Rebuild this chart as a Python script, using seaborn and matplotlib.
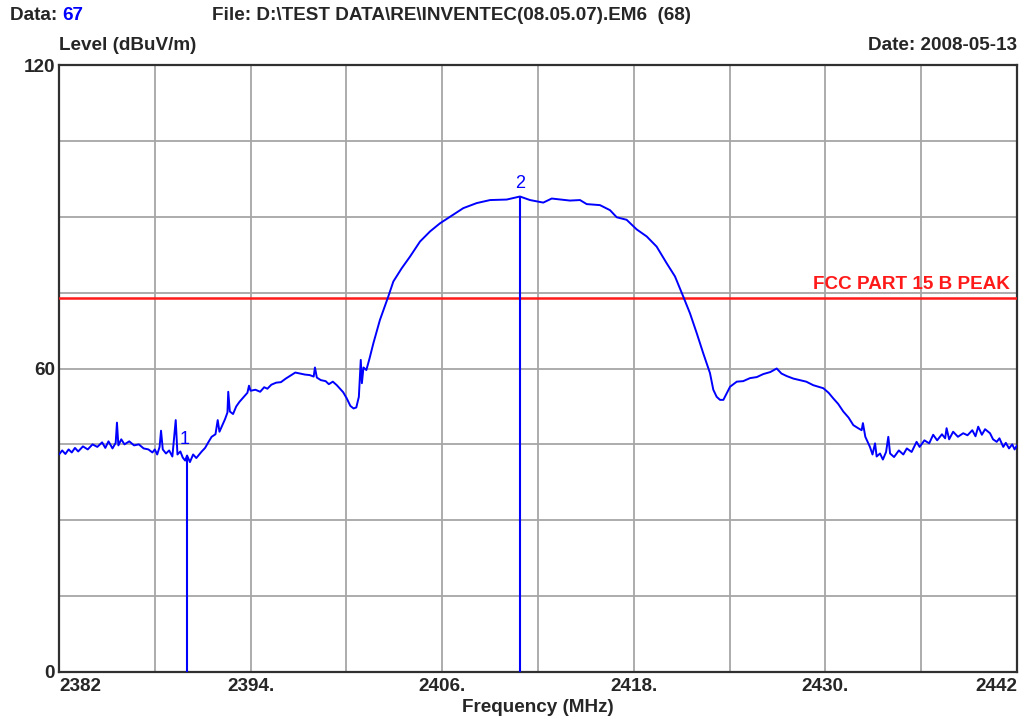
import matplotlib
matplotlib.use("Agg")
import matplotlib.pyplot as plt
import numpy as np
import pandas as pd
import seaborn as sns

# Spectrum trace (MHz, dBuV/m)
freq_mhz = [
    2382.00, 2382.20, 2382.40, 2382.60, 2382.80, 2383.00, 2383.20, 2383.50, 2383.80, 2384.10,
    2384.40, 2384.70, 2384.90, 2385.10, 2385.35, 2385.55, 2385.63, 2385.72, 2385.90, 2386.10,
    2386.40, 2386.70, 2387.00, 2387.30, 2387.60, 2387.85, 2388.00, 2388.15, 2388.30, 2388.39,
    2388.50, 2388.70, 2388.90, 2389.10, 2389.31, 2389.42, 2389.60, 2389.75, 2389.90, 2390.02,
    2390.20, 2390.40, 2390.60, 2390.94, 2391.15, 2391.35, 2391.56, 2391.80, 2391.94, 2392.05,
    2392.19, 2392.40, 2392.55, 2392.60, 2392.70, 2392.90, 2393.10, 2393.30, 2393.55, 2393.80,
    2393.90, 2394.00, 2394.30, 2394.60, 2394.85, 2395.05, 2395.30, 2395.60, 2395.90, 2396.20,
    2396.50, 2396.80, 2397.10, 2397.40, 2397.70, 2397.95, 2398.03, 2398.15, 2398.40, 2398.70,
    2398.90, 2399.15, 2399.40, 2399.60, 2399.80, 2400.02, 2400.25, 2400.45, 2400.62, 2400.78,
    2400.90, 2400.97, 2401.07, 2401.25, 2401.45, 2401.69, 2402.10, 2402.62, 2402.94, 2403.46,
    2403.98, 2404.61, 2405.24, 2405.86, 2406.49, 2407.32, 2408.16, 2409.00, 2410.04, 2410.87,
    2411.50, 2412.33, 2412.86, 2414.00, 2414.63, 2415.05, 2415.88, 2416.51, 2416.93, 2417.55,
    2418.18, 2418.81, 2419.43, 2420.06, 2420.58, 2421.10, 2421.52, 2421.94, 2422.35, 2422.77,
    2422.98, 2423.19, 2423.40, 2423.61, 2424.03, 2424.45, 2424.85, 2425.28, 2425.70, 2426.11,
    2426.55, 2426.95, 2427.25, 2427.58, 2428.00, 2428.41, 2428.80, 2429.24, 2429.87, 2430.20,
    2430.49, 2430.80, 2431.12, 2431.45, 2431.75, 2432.05, 2432.27, 2432.35, 2432.50, 2432.79,
    2432.95, 2433.11, 2433.21, 2433.42, 2433.60, 2433.80, 2433.94, 2434.05, 2434.30, 2434.60,
    2434.88, 2435.10, 2435.40, 2435.71, 2435.90, 2436.20, 2436.50, 2436.75, 2437.00, 2437.30,
    2437.50, 2437.59, 2437.75, 2438.00, 2438.30, 2438.63, 2438.90, 2439.20, 2439.40, 2439.57,
    2439.80, 2440.00, 2440.31, 2440.50, 2440.73, 2440.90, 2441.14, 2441.30, 2441.50, 2441.70,
    2441.85, 2442.00,
]
level_dbuv = [
    43.0, 43.8, 43.1, 44.0, 43.4, 44.3, 43.6, 44.6, 44.0, 45.0,
    44.5, 45.4, 44.3, 45.6, 44.2, 45.3, 49.3, 44.8, 46.0, 45.0,
    45.6, 44.8, 45.0, 44.2, 44.0, 43.4, 44.0, 43.0, 44.5, 47.7,
    44.0, 43.2, 43.8, 42.6, 49.8, 43.0, 43.6, 42.4, 41.8, 42.8,
    41.5, 43.0, 42.3, 43.6, 44.3, 45.4, 46.5, 47.0, 49.8, 47.5,
    48.5, 50.0, 51.3, 55.4, 51.5, 51.0, 52.5, 53.4, 54.3, 55.2,
    56.6, 55.6, 55.8, 55.4, 56.3, 56.0, 56.8, 57.2, 57.3, 58.0,
    58.6, 59.2, 59.0, 58.8, 58.7, 58.4, 60.2, 58.2, 57.7, 57.5,
    56.9, 57.4, 56.7, 56.0, 55.3, 54.1, 52.6, 52.1, 52.3, 54.4,
    61.7, 57.1, 60.2, 59.7, 62.0, 65.0, 69.6, 74.2, 77.2, 79.8,
    82.1, 85.1, 87.1, 88.7, 90.0, 91.7, 92.7, 93.3, 93.4, 94.0,
    93.3, 92.8, 93.6, 93.2, 93.3, 92.5, 92.3, 91.3, 89.9, 89.4,
    87.5, 86.1, 84.1, 80.8, 78.2, 74.2, 70.9, 67.0, 63.0, 59.1,
    55.8, 54.4, 53.8, 53.8, 56.4, 57.4, 57.5, 58.1, 58.3, 58.9,
    59.3, 60.0, 59.0, 58.5, 58.0, 57.7, 57.4, 56.7, 56.1, 55.2,
    54.1, 53.0, 51.5, 50.3, 48.8, 48.2, 47.8, 49.2, 46.5, 44.5,
    43.0, 45.2, 42.6, 43.2, 42.0, 43.5, 46.5, 43.2, 42.5, 43.8,
    43.0, 44.2, 43.5, 45.5, 44.5, 45.8, 45.2, 46.9, 45.8, 47.0,
    46.2, 48.2, 46.0, 47.5, 46.5, 47.2, 46.8, 47.8, 46.6, 48.5,
    46.9, 48.0, 47.2, 46.0, 45.5, 46.2, 44.5, 45.3, 44.2, 45.0,
    44.0, 44.8,
]

# Markers
marker_ids = ["1", "2"]
marker_freq = [2390.02, 2410.87]
marker_level = [42.5, 94.0]

# Limit line
limit_name = "FCC PART 15 B PEAK"
limit_level = 74.0

# Axis ticks
x_ticks = [2382, 2388, 2394, 2400, 2406, 2412, 2418, 2424, 2430, 2436, 2442]
x_tick_labels = ["2382", "", "2394.", "", "2406.", "", "2418.", "", "2430.", "", "2442"]
y_ticks = [0, 15, 30, 45, 60, 75, 90, 105, 120]
y_tick_labels = ["0", "", "", "", "60", "", "", "", "120"]

# Header text
data_no = "67"
file_text = "File: D:\\TEST DATA\\RE\\INVENTEC(08.05.07).EM6  (68)"
date_text = "Date: 2008-05-13"

sns.set_style("white")
plt.rcParams["font.family"] = ["Liberation Sans", "DejaVu Sans"]
plt.rcParams["font.weight"] = "bold"

BLUE = "#0000ff"
RED = "#ff1a1a"
FS = 13.6

fig = plt.figure(figsize=(10.35, 7.23), dpi=100)
ax = fig.add_axes([59 / 1035, 51 / 723, 958 / 1035, 607 / 723])

df = pd.DataFrame({"Frequency": freq_mhz, "Level": level_dbuv})
sns.lineplot(data=df, x="Frequency", y="Level", ax=ax, color=BLUE, linewidth=1.4,
             estimator=None, sort=False, zorder=4)

ax.axhline(limit_level, color=RED, linewidth=1.8, zorder=3)
ax.text(2441.55, limit_level + 0.9, limit_name, color=RED, fontsize=FS,
        fontweight="bold", ha="right", va="bottom", zorder=5)

ax.vlines(marker_freq, 0, marker_level, color=BLUE, linewidth=1.5, zorder=4)
label_offsets = {"1": (-0.18, 1.7), "2": (0.0, 0.8)}
for mid, mf, ml in zip(marker_ids, marker_freq, marker_level):
    dx, dy = label_offsets[mid]
    ax.text(mf + dx, ml + dy, mid, color=BLUE, fontsize=13, fontweight="normal",
            ha="center", va="bottom", zorder=5)

ax.set_xlim(2382, 2442)
ax.set_ylim(0, 120)
ax.set_xticks(x_ticks)
ax.set_xticklabels(x_tick_labels, fontsize=FS, fontweight="bold")
ax.set_yticks(y_ticks)
ax.set_yticklabels(y_tick_labels, fontsize=FS, fontweight="bold")
labels = ax.get_xticklabels()
labels[0].set_ha("left")
labels[-1].set_ha("right")
ax.tick_params(axis="both", length=0, pad=4)
ax.tick_params(axis="y", pad=3)

ax.grid(True, color="#a6a6a6", linewidth=1.3, zorder=0)
ax.set_axisbelow(True)
for s in ax.spines.values():
    s.set_color("#303030")
    s.set_linewidth(1.6)
    s.set_visible(True)

ax.set_xlabel("Frequency (MHz)", fontsize=FS, fontweight="bold", labelpad=3)
ax.set_ylabel("")

# Header lines
fig.text(10 / 1035, 1 - 15 / 723, "Data: ", fontsize=FS, fontweight="bold", va="center", ha="left")
fig.text(62 / 1035, 1 - 15 / 723, data_no, fontsize=FS, fontweight="bold", va="center",
         ha="left", color=BLUE)
fig.text(212 / 1035, 1 - 15 / 723, file_text, fontsize=FS, fontweight="bold", va="center", ha="left")
fig.text(59 / 1035, 1 - 45 / 723, "Level (dBuV/m)", fontsize=FS, fontweight="bold",
         va="center", ha="left")
fig.text(1017 / 1035, 1 - 45 / 723, date_text, fontsize=FS, fontweight="bold",
         va="center", ha="right")

fig.savefig("out.png", dpi=100, facecolor="white")
